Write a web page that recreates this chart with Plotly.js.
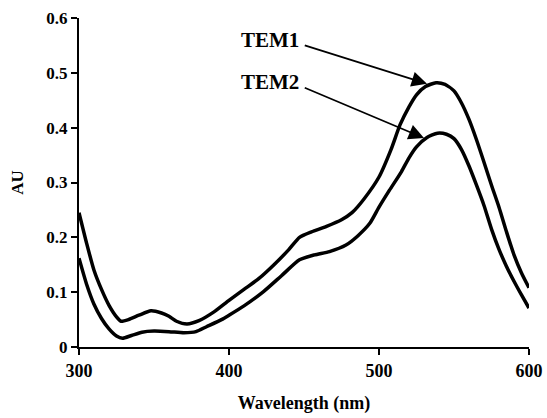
<!DOCTYPE html>
<html>
<head>
<meta charset="utf-8">
<script src="https://cdn.plot.ly/plotly-3.0.1.min.js"></script>
<style>html,body{margin:0;padding:0;background:#fff;}#chart{width:547px;height:418px;}</style>
</head>
<body>
<div id="chart"></div>
<script>
// TEM1 spectrum (wavelength nm, absorbance AU)
const tem1Wavelength = [300,305,310,315,320,325,328,333,340,348,355,360,365,372,380,390,400,410,420,430,440,447,455,465,475,482,490,500,508,514,520,525,531,538,544,550,555,560,565,570,575,580,585,590,595,600];
const tem1AU = [0.245,0.19,0.14,0.105,0.076,0.055,0.047,0.05,0.058,0.066,0.062,0.056,0.047,0.042,0.048,0.064,0.085,0.105,0.125,0.15,0.178,0.2,0.21,0.22,0.232,0.245,0.27,0.31,0.36,0.405,0.438,0.46,0.475,0.482,0.479,0.467,0.445,0.415,0.378,0.337,0.295,0.255,0.21,0.168,0.135,0.108];

// TEM2 spectrum
const tem2Wavelength = [300,305,310,315,320,325,329,335,342,350,360,370,378,385,395,400,410,423,435,447,457,467,478,486,494,500,507,515,520,525,532,539,545,550,555,560,565,570,575,580,585,590,595,600];
const tem2AU = [0.162,0.115,0.078,0.052,0.033,0.02,0.016,0.021,0.027,0.029,0.028,0.026,0.028,0.037,0.05,0.058,0.075,0.101,0.13,0.159,0.168,0.174,0.186,0.203,0.226,0.255,0.286,0.32,0.345,0.365,0.382,0.39,0.388,0.38,0.36,0.33,0.295,0.258,0.215,0.178,0.147,0.12,0.095,0.071];

// Annotation labels and positions (data coords)
const labelNames = ["TEM1", "TEM2"];
const labelX = [427, 427];
const labelY = [0.56, 0.483];
const arrowTailX = [449.5, 449.5];
const arrowTailY = [0.551, 0.474];
const arrowTipX = [532, 530];
const arrowTipY = [0.48, 0.381];

const serif = "Liberation Serif, Times New Roman, serif";

const lineStyle = {color: "#000", width: 3.5, shape: "spline", smoothing: 0.6};

const traces = [
  {x: tem1Wavelength, y: tem1AU, type: "scatter", mode: "lines", name: "TEM1", line: lineStyle},
  {x: tem2Wavelength, y: tem2AU, type: "scatter", mode: "lines", name: "TEM2", line: lineStyle}
];

const annotations = [];
for (let i = 0; i < labelNames.length; i++) {
  annotations.push({
    x: labelX[i], y: labelY[i], xref: "x", yref: "y",
    text: labelNames[i], showarrow: false,
    font: {family: serif, size: 21, color: "#000", weight: 700}
  });
  annotations.push({
    x: arrowTipX[i], y: arrowTipY[i], xref: "x", yref: "y",
    ax: arrowTailX[i], ay: arrowTailY[i], axref: "x", ayref: "y",
    text: "", showarrow: true, arrowhead: 2, arrowsize: 1.8, arrowwidth: 1.7, arrowcolor: "#000"
  });
}

const layout = {
  width: 547, height: 418,
  margin: {l: 79, r: 18, t: 18, b: 71},
  paper_bgcolor: "#fff", plot_bgcolor: "#fff",
  showlegend: false,
  font: {family: serif, color: "#000"},
  xaxis: {
    range: [300, 600], tickvals: [300, 400, 500, 600],
    showgrid: false, zeroline: false,
    showline: true, linecolor: "#000", linewidth: 2,
    ticks: "outside", ticklen: 6, tickwidth: 2, tickcolor: "#000",
    tickfont: {family: serif, size: 18, color: "#000", weight: 700},
    title: {text: "Wavelength (nm)", font: {family: serif, size: 18, color: "#000", weight: 700}, standoff: 17}
  },
  yaxis: {
    range: [0, 0.6], tickvals: [0, 0.1, 0.2, 0.3, 0.4, 0.5, 0.6],
    ticktext: ["0", "0.1", "0.2", "0.3", "0.4", "0.5", "0.6"],
    showgrid: false, zeroline: false,
    showline: true, linecolor: "#000", linewidth: 2,
    ticks: "outside", ticklen: 6, tickwidth: 2, tickcolor: "#000",
    tickfont: {family: serif, size: 17, color: "#000", weight: 700},
    title: {text: "AU", font: {family: serif, size: 17, color: "#000", weight: 700}, standoff: 18}
  },
  annotations: annotations
};

Plotly.newPlot("chart", traces, layout, {staticPlot: true, displayModeBar: false});
</script>
</body>
</html>
